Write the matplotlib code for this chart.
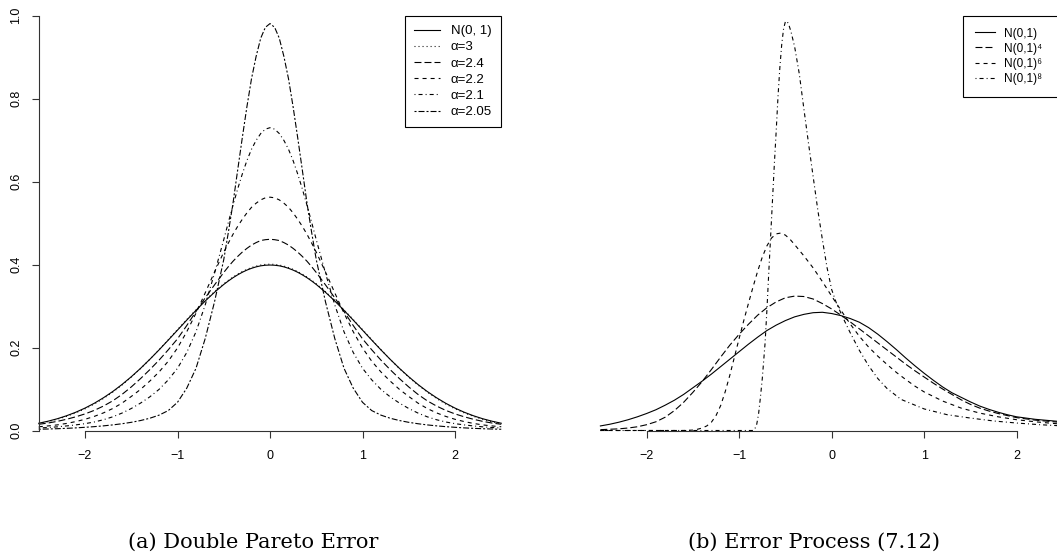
import numpy as np
import matplotlib
matplotlib.use('Agg')
import matplotlib.pyplot as plt
from matplotlib.lines import Line2D

plt.rcParams['font.family'] = ['Liberation Sans', 'DejaVu Sans']
plt.rcParams['lines.scale_dashes'] = False

# ---- panel (a): double pareto error densities
x_left = [-2.5, -2.4, -2.3, -2.2, -2.1, -2.0, -1.9, -1.8, -1.7, -1.6, -1.5, -1.4, -1.3, -1.2, -1.1, -1.0,
          -0.9, -0.8, -0.7, -0.6, -0.5, -0.45, -0.4, -0.35, -0.3, -0.25, -0.2, -0.15, -0.1, -0.05, 0,
          0.05, 0.1, 0.15, 0.2, 0.25, 0.3, 0.35, 0.4, 0.45, 0.5, 0.6, 0.7, 0.8, 0.9, 1.0,
          1.1, 1.2, 1.3, 1.4, 1.5, 1.6, 1.7, 1.8, 1.9, 2.0, 2.1, 2.2, 2.3, 2.4, 2.5]
norm_left = [0.0175, 0.0224, 0.0283, 0.0355, 0.0440, 0.0540, 0.0656, 0.0790, 0.0940, 0.1109, 0.1295, 0.1497,
             0.1714, 0.1942, 0.2179, 0.2420, 0.2661, 0.2897, 0.3123, 0.3332, 0.3521, 0.3605, 0.3683, 0.3752,
             0.3814, 0.3867, 0.3910, 0.3945, 0.3970, 0.3984, 0.3989,
             0.3984, 0.3970, 0.3945, 0.3910, 0.3867, 0.3814, 0.3752, 0.3683, 0.3605, 0.3521, 0.3332, 0.3123,
             0.2897, 0.2661, 0.2420, 0.2179, 0.1942, 0.1714, 0.1497, 0.1295, 0.1109, 0.0940, 0.0790, 0.0656,
             0.0540, 0.0440, 0.0355, 0.0283, 0.0224, 0.0175]
alpha_3 = [0.0165, 0.0212, 0.0270, 0.0340, 0.0425, 0.0522, 0.0638, 0.0772, 0.0925, 0.1096, 0.1287, 0.1492,
           0.1714, 0.1947, 0.2188, 0.2432, 0.2674, 0.2911, 0.3137, 0.3347, 0.3537, 0.3623, 0.3700, 0.3770,
           0.3832, 0.3885, 0.3929, 0.3964, 0.3989, 0.4005, 0.4010,
           0.4005, 0.3989, 0.3964, 0.3929, 0.3885, 0.3832, 0.3770, 0.3700, 0.3623, 0.3537, 0.3347, 0.3137,
           0.2911, 0.2674, 0.2432, 0.2188, 0.1947, 0.1714, 0.1492, 0.1287, 0.1096, 0.0925, 0.0772, 0.0638,
           0.0522, 0.0425, 0.0340, 0.0270, 0.0212, 0.0165]
alpha_24 = [0.0150, 0.0180, 0.0220, 0.0270, 0.0330, 0.0400, 0.0485, 0.0590, 0.0715, 0.0870, 0.1050, 0.1250,
            0.1465, 0.1695, 0.1945, 0.2210, 0.2530, 0.2870, 0.3200, 0.3510, 0.3810, 0.3950, 0.4080, 0.4195,
            0.4300, 0.4390, 0.4470, 0.4530, 0.4580, 0.4600, 0.4610,
            0.4600, 0.4580, 0.4530, 0.4470, 0.4390, 0.4300, 0.4195, 0.4080, 0.3950, 0.3810, 0.3510, 0.3200,
            0.2870, 0.2530, 0.2210, 0.1945, 0.1695, 0.1465, 0.1250, 0.1050, 0.0870, 0.0715, 0.0590, 0.0485,
            0.0400, 0.0330, 0.0270, 0.0220, 0.0180, 0.0150]
alpha_22 = [0.0090, 0.0110, 0.0135, 0.0170, 0.0215, 0.0270, 0.0340, 0.0425, 0.0530, 0.0660, 0.0820, 0.0990,
            0.1190, 0.1410, 0.1670, 0.1990, 0.2380, 0.2830, 0.3320, 0.3820, 0.4300, 0.4520, 0.4730, 0.4920,
            0.5090, 0.5245, 0.5380, 0.5480, 0.5560, 0.5610, 0.5625,
            0.5610, 0.5560, 0.5480, 0.5380, 0.5245, 0.5090, 0.4920, 0.4730, 0.4520, 0.4300, 0.3820, 0.3320,
            0.2830, 0.2380, 0.1990, 0.1670, 0.1410, 0.1190, 0.0990, 0.0820, 0.0660, 0.0530, 0.0425, 0.0340,
            0.0270, 0.0215, 0.0170, 0.0135, 0.0110, 0.0090]
alpha_21 = [0.0060, 0.0072, 0.0088, 0.0110, 0.0135, 0.0165, 0.0205, 0.0260, 0.0330, 0.0420, 0.0530, 0.0660,
            0.0810, 0.0990, 0.1220, 0.1500, 0.1880, 0.2380, 0.3030, 0.3790, 0.4600, 0.5020, 0.5430, 0.5820,
            0.6180, 0.6505, 0.6780, 0.6995, 0.7160, 0.7265, 0.7300,
            0.7265, 0.7160, 0.6995, 0.6780, 0.6505, 0.6180, 0.5820, 0.5430, 0.5020, 0.4600, 0.3790, 0.3030,
            0.2380, 0.1880, 0.1500, 0.1220, 0.0990, 0.0810, 0.0660, 0.0530, 0.0420, 0.0330, 0.0260, 0.0205,
            0.0165, 0.0135, 0.0110, 0.0088, 0.0072, 0.0060]
alpha_205 = [0.0030, 0.0036, 0.0043, 0.0052, 0.0063, 0.0077, 0.0093, 0.0112, 0.0135, 0.0163, 0.0197, 0.0240,
             0.0295, 0.0370, 0.0480, 0.0680, 0.1020, 0.1500, 0.2220, 0.3100, 0.4120, 0.4780, 0.5480, 0.6270,
             0.7050, 0.7800, 0.8480, 0.9020, 0.9460, 0.9720, 0.9810,
             0.9720, 0.9460, 0.9020, 0.8480, 0.7800, 0.7050, 0.6270, 0.5480, 0.4780, 0.4120, 0.3100, 0.2220,
             0.1500, 0.1020, 0.0680, 0.0480, 0.0370, 0.0295, 0.0240, 0.0197, 0.0163, 0.0135, 0.0112, 0.0093,
             0.0077, 0.0063, 0.0052, 0.0043, 0.0036, 0.0030]
labels_left = ['N(0, 1)', 'α=3', 'α=2.4', 'α=2.2', 'α=2.1', 'α=2.05']

# ---- panel (b): error process (7.12)
x_r = [-2.5, -2.4, -2.3, -2.2, -2.1, -2.0, -1.9, -1.8, -1.7, -1.6, -1.5, -1.4, -1.3, -1.2, -1.1, -1.0,
       -0.9, -0.8, -0.7, -0.6, -0.5, -0.4, -0.3, -0.2, -0.1, 0, 0.1, 0.2, 0.3, 0.4, 0.5, 0.6, 0.7, 0.8,
       0.9, 1.0, 1.1, 1.2, 1.3, 1.4, 1.5, 1.6, 1.7, 1.8, 1.9, 2.0, 2.1, 2.2, 2.3, 2.4, 2.5]
proc_n1 = [0.011, 0.015, 0.020, 0.026, 0.033, 0.041, 0.050, 0.061, 0.073, 0.087, 0.103, 0.119, 0.136, 0.154,
           0.172, 0.190, 0.208, 0.225, 0.241, 0.254, 0.265, 0.274, 0.280, 0.284, 0.285, 0.282, 0.277, 0.270,
           0.261, 0.248, 0.232, 0.214, 0.195, 0.175, 0.156, 0.138, 0.121, 0.105, 0.091, 0.080, 0.069, 0.059,
           0.051, 0.044, 0.038, 0.033, 0.030, 0.027, 0.025, 0.023, 0.021]
proc_n4 = [0.002, 0.003, 0.004, 0.006, 0.009, 0.014, 0.021, 0.032, 0.048, 0.068, 0.092, 0.118, 0.147, 0.177,
           0.206, 0.232, 0.256, 0.278, 0.296, 0.310, 0.320, 0.324, 0.323, 0.317, 0.306, 0.293, 0.278, 0.262,
           0.245, 0.228, 0.211, 0.194, 0.177, 0.160, 0.144, 0.129, 0.114, 0.100, 0.087, 0.074, 0.063, 0.054,
           0.047, 0.041, 0.036, 0.031, 0.028, 0.025, 0.023, 0.021, 0.019]
x_r6 = [-2.5, -1.6, -1.5, -1.45, -1.4, -1.35, -1.3, -1.25, -1.2, -1.15, -1.1, -1.05, -1.0, -0.95, -0.9, -0.85,
        -0.8, -0.75, -0.7, -0.65, -0.6, -0.55, -0.5, -0.45, -0.4, -0.3, -0.2, -0.1, 0, 0.1, 0.2, 0.3, 0.4, 0.5,
        0.6, 0.7, 0.8, 0.9, 1.0, 1.2, 1.4, 1.6, 1.8, 2.0, 2.2, 2.4, 2.5]
proc_n6 = [0, 0, 0.001, 0.003, 0.006, 0.011, 0.020, 0.036, 0.060, 0.094, 0.134, 0.178, 0.222, 0.265, 0.306,
           0.346, 0.384, 0.418, 0.445, 0.464, 0.474, 0.476, 0.471, 0.461, 0.448, 0.421, 0.392, 0.359, 0.324,
           0.290, 0.257, 0.227, 0.201, 0.179, 0.159, 0.140, 0.123, 0.107, 0.093, 0.071, 0.054, 0.042, 0.033,
           0.026, 0.021, 0.017, 0.015]
x_r8 = [-2.5, -0.85, -0.83, -0.81, -0.79, -0.77, -0.75, -0.72, -0.7, -0.68, -0.65, -0.62, -0.6, -0.58, -0.56,
        -0.54, -0.52, -0.5, -0.48, -0.46, -0.44, -0.4, -0.35, -0.3, -0.25, -0.2, -0.15, -0.1, -0.05, 0, 0.05,
        0.1, 0.15, 0.2, 0.3, 0.4, 0.5, 0.6, 0.75, 1.0, 1.25, 1.5, 1.75, 2.0, 2.25, 2.5]
proc_n8 = [0, 0, 0.004, 0.015, 0.040, 0.080, 0.125, 0.210, 0.290, 0.380, 0.510, 0.640, 0.720, 0.805, 0.875,
           0.930, 0.968, 0.986, 0.986, 0.976, 0.962, 0.925, 0.860, 0.775, 0.692, 0.612, 0.532, 0.460, 0.393,
           0.340, 0.308, 0.283, 0.259, 0.236, 0.193, 0.156, 0.125, 0.101, 0.075, 0.052, 0.038, 0.030, 0.023,
           0.018, 0.014, 0.011]
labels_right = ['N(0,1)', 'N(0,1)⁴', 'N(0,1)⁶', 'N(0,1)⁸']

# R style line types, in points
lty = {
    'solid': '-',
    'dotted': (0, (0.7, 2.2)),
    'dashed': (0, (2.9, 2.9)),
    'dotdash': (0, (0.7, 2.2, 2.9, 2.2)),
    'longdash': (0, (5.0, 2.2)),
    'twodash': (0, (1.45, 1.45, 4.3, 1.45)),
}
lw = 0.8

W, H = 1057, 558
fig = plt.figure(figsize=(W / 100, H / 100), dpi=100)
ax1 = fig.add_axes([38.75 / W, (H - 430.5) / H, 462.5 / W, 414.8 / H])
ax2 = fig.add_axes([600.4 / W, (H - 430.5) / H, 462.5 / W, 414.8 / H])

left_series = [(alpha_3, 'dotted'), (alpha_24, 'longdash'), (alpha_22, 'dashed'),
               (alpha_21, 'dotdash'), (alpha_205, 'twodash'), (norm_left, 'solid')]
for ys, st in left_series:
    ax1.plot(x_left, ys, color='black', lw=lw, ls=lty[st], clip_on=False)

right_series = [(x_r, proc_n1, 'solid'), (x_r, proc_n4, 'longdash'),
                (x_r6, proc_n6, 'dashed'), (x_r8, proc_n8, 'dotdash')]
for xs, ys, st in right_series:
    ax2.plot(xs, ys, color='black', lw=lw, ls=lty[st], clip_on=False)

for ax in (ax1, ax2):
    ax.set_xlim(-2.5, 2.5)
    ax.set_ylim(0, 1)
    ax.set_xticks([-2, -1, 0, 1, 2])
    for s in ('top', 'right'):
        ax.spines[s].set_visible(False)
    ax.spines['bottom'].set_bounds(-2, 2)
    ax.spines['bottom'].set_linewidth(0.8)
    ax.spines['bottom'].set_color('#333333')
    ax.tick_params(axis='x', direction='out', length=5, width=0.8, color='#333333', pad=9, labelsize=9)
    ax.patch.set_visible(False)

ax1.spines['left'].set_bounds(0, 1)
ax1.spines['left'].set_linewidth(0.8)
ax1.spines['left'].set_color('#333333')
ax1.set_yticks([0, 0.2, 0.4, 0.6, 0.8, 1.0])
ax1.set_yticklabels(['0.0', '0.2', '0.4', '0.6', '0.8', '1.0'])
ax1.tick_params(axis='y', direction='out', length=5, width=0.8, color='#333333', pad=7, labelsize=9,
                labelrotation=90)
for lab in ax1.get_yticklabels():
    lab.set_va('center')

ax2.spines['left'].set_visible(False)
ax2.set_yticks([])

legend_order = [5, 0, 1, 2, 3, 4]
h1 = [Line2D([], [], color='black', lw=lw, ls=lty[left_series[i][1]]) for i in legend_order]
leg1 = ax1.legend(h1, labels_left, loc='upper right', bbox_to_anchor=(1.0, 1.0), borderaxespad=0,
                  fancybox=False, edgecolor='black', framealpha=1, prop={'size': 9.5},
                  handlelength=1.95, handletextpad=0.85, labelspacing=0.3, borderpad=0.7)
leg1.get_frame().set_linewidth(0.8)

h2 = [Line2D([], [], color='black', lw=lw, ls=lty[st]) for _, _, st in right_series]
x0 = (963 - 600.4) / 462.5
leg2 = ax2.legend(h2, labels_right, loc='upper left', bbox_to_anchor=(x0, 0.0, 0.25, 1.0), mode='expand',
                  borderaxespad=0, fancybox=False, edgecolor='black', framealpha=1, prop={'size': 8.5},
                  handlelength=1.7, handletextpad=0.8, labelspacing=0.26, borderpad=1.0)
leg2.get_frame().set_linewidth(0.8)

fig.text(253 / W, 1 - 542 / H, '(a) Double Pareto Error', ha='center', va='center',
         family='DejaVu Serif', size=15)
fig.text(814 / W, 1 - 542 / H, '(b) Error Process (7.12)', ha='center', va='center',
         family='DejaVu Serif', size=15)

fig.savefig('out.png', dpi=100)
